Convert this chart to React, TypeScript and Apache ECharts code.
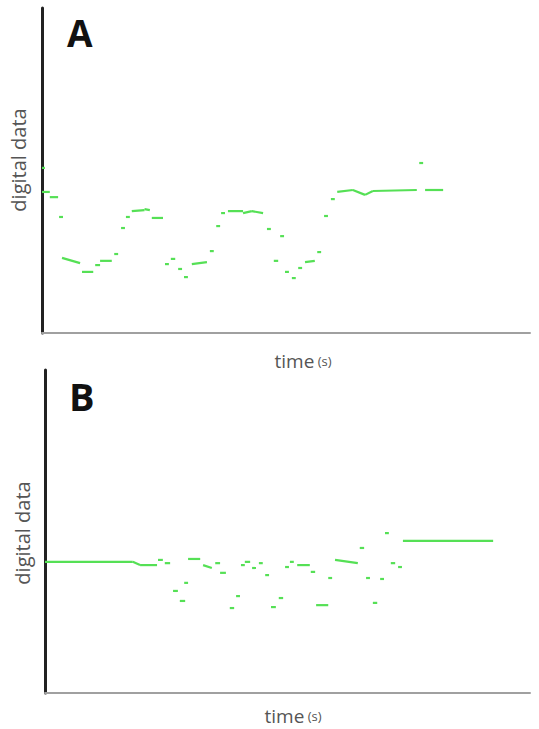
import React, { useEffect, useRef } from "react";
import * as echarts from "echarts";

// Each dash: [tStart, valueStart, tEnd, valueEnd] (time 0-100, digital data 0-100)
const dashesA: number[][] = [
  [0, 50.8, 0.6, 50.8],
  [0, 43.4, 1.6, 43.4],
  [1.6, 41.8, 3.3, 41.8],
  [3.5, 35.7, 4.3, 35.7],
  [4.1, 23.1, 7.8, 21.5],
  [8.2, 18.8, 10.5, 18.8],
  [10.9, 20.9, 11.9, 20.9],
  [11.9, 22.2, 14.3, 22.2],
  [14.8, 24.3, 15.6, 24.3],
  [16.2, 32.3, 17.0, 32.3],
  [17.2, 35.7, 18.0, 35.7],
  [18.4, 37.5, 21.0, 37.8],
  [21.0, 38.1, 22.1, 37.8],
  [22.5, 35.4, 24.8, 35.4],
  [25.2, 21.2, 26.0, 21.2],
  [26.4, 22.8, 27.3, 22.8],
  [27.9, 19.7, 28.7, 19.7],
  [29.1, 17.2, 29.9, 17.2],
  [30.7, 21.2, 33.8, 21.8],
  [34.4, 25.2, 35.2, 25.2],
  [35.7, 32.9, 36.5, 32.9],
  [36.7, 36.9, 37.5, 36.9],
  [38.1, 37.5, 41.2, 37.5],
  [41.2, 36.9, 43.0, 37.5],
  [43.0, 37.5, 45.3, 36.9],
  [46.1, 32.0, 46.9, 32.0],
  [47.5, 22.2, 48.4, 22.2],
  [48.8, 29.8, 49.6, 29.8],
  [49.8, 18.8, 50.6, 18.8],
  [51.2, 16.9, 52.0, 16.9],
  [52.5, 20.0, 53.3, 20.0],
  [53.9, 21.8, 55.9, 22.2],
  [56.4, 24.9, 57.2, 24.9],
  [57.8, 36.0, 58.6, 36.0],
  [59.2, 41.2, 60.0, 41.2],
  [60.5, 43.4, 63.7, 44.0],
  [63.7, 44.0, 66.2, 42.5],
  [66.2, 42.5, 67.8, 43.7],
  [67.8, 43.7, 76.8, 44.0],
  [77.3, 52.3, 78.1, 52.3],
  [78.5, 44.0, 82.2, 44.0],
];

const dashesB: number[][] = [
  [0, 40.6, 18.1, 40.6],
  [18.1, 40.6, 19.6, 39.6],
  [19.6, 39.6, 23.1, 39.6],
  [23.3, 41.2, 24.3, 41.2],
  [24.7, 40.2, 25.8, 40.2],
  [26.4, 31.6, 27.4, 31.6],
  [27.8, 28.5, 28.9, 28.5],
  [28.7, 34.1, 29.5, 34.1],
  [29.5, 41.5, 32.0, 41.5],
  [32.6, 39.6, 34.4, 38.7],
  [35.1, 40.2, 36.1, 40.2],
  [36.1, 37.2, 37.3, 37.2],
  [38.1, 26.3, 39.0, 26.3],
  [39.4, 30.0, 40.2, 30.0],
  [40.4, 39.6, 41.2, 39.6],
  [41.2, 40.6, 42.3, 40.6],
  [42.7, 38.7, 43.5, 38.7],
  [44.1, 40.2, 44.9, 40.2],
  [45.4, 36.5, 46.2, 36.5],
  [46.6, 26.6, 47.6, 26.6],
  [48.2, 29.4, 49.1, 29.4],
  [49.5, 39.0, 50.3, 39.0],
  [50.5, 40.6, 51.3, 40.6],
  [52.0, 39.6, 54.6, 39.6],
  [54.8, 37.5, 55.7, 37.5],
  [55.9, 27.2, 58.4, 27.2],
  [58.4, 35.6, 59.2, 35.6],
  [59.8, 41.2, 64.5, 40.2],
  [64.9, 44.9, 65.8, 44.9],
  [66.2, 35.6, 67.0, 35.6],
  [67.6, 27.9, 68.5, 27.9],
  [69.1, 35.3, 69.9, 35.3],
  [70.1, 49.5, 70.9, 49.5],
  [71.3, 40.2, 72.2, 40.2],
  [72.8, 39.0, 73.6, 39.0],
  [73.8, 47.1, 92.4, 47.1],
];

const panelLabels = ["A", "B"];
const yAxisTitle = "digital data";
const xAxisTitle = "time";
const xAxisUnit = "(s)";

const GREEN = "#55e055";
const GRAY_TEXT = "#555555";
const FONT = "'Open Sans', 'Noto Sans', sans-serif";

export default function App() {
  const ref = useRef<HTMLDivElement>(null);

  useEffect(() => {
    if (!ref.current) return;
    const chart = echarts.init(ref.current, undefined, { renderer: "svg" });

    const renderDash = (_params: any, api: any) => {
      const p0 = api.coord([api.value(0), api.value(1)]);
      const p1 = api.coord([api.value(2), api.value(3)]);
      return {
        type: "line",
        shape: { x1: p0[0], y1: p0[1], x2: p1[0], y2: p1[1] },
        style: { stroke: GREEN, lineWidth: 2.2, lineCap: "butt" },
      };
    };

    const xAxisBase = {
      type: "value",
      min: 0,
      max: 100,
      axisLine: { show: true, onZero: false, lineStyle: { color: "#a0a0a0", width: 2 } },
      axisTick: { show: false },
      axisLabel: { show: false },
      splitLine: { show: false },
    };
    const yAxisBase = {
      type: "value",
      min: 0,
      max: 100,
      axisLine: { show: true, onZero: false, lineStyle: { color: "#222222", width: 3 } },
      axisTick: { show: false },
      axisLabel: { show: false },
      splitLine: { show: false },
    };

    const timeText = (x: number, y: number) => ({
      type: "text",
      x,
      y,
      style: {
        text: `{a|${xAxisTitle}} {b|${xAxisUnit}}`,
        align: "center",
        verticalAlign: "middle",
        rich: {
          a: { fontSize: 19, fill: GRAY_TEXT, fontFamily: FONT },
          b: { fontSize: 13, fill: GRAY_TEXT, fontFamily: FONT },
        },
      },
    });

    const yTitle = (x: number, y: number) => ({
      type: "text",
      x,
      y,
      rotation: Math.PI / 2,
      style: {
        text: yAxisTitle,
        align: "center",
        verticalAlign: "middle",
        fontSize: 20,
        fill: GRAY_TEXT,
        fontFamily: FONT,
      },
    });

    chart.setOption({
      animation: false,
      backgroundColor: "#ffffff",
      grid: [
        { left: 42, top: 8, width: 488, height: 325 },
        { left: 45, top: 370, width: 485, height: 323 },
      ],
      xAxis: [
        { ...xAxisBase, gridIndex: 0 },
        { ...xAxisBase, gridIndex: 1 },
      ],
      yAxis: [
        { ...yAxisBase, gridIndex: 0 },
        { ...yAxisBase, gridIndex: 1 },
      ],
      series: [
        {
          type: "custom",
          xAxisIndex: 0,
          yAxisIndex: 0,
          renderItem: renderDash,
          encode: { x: [0, 2], y: [1, 3] },
          data: dashesA,
          clip: false,
        },
        {
          type: "custom",
          xAxisIndex: 1,
          yAxisIndex: 1,
          renderItem: renderDash,
          encode: { x: [0, 2], y: [1, 3] },
          data: dashesB,
          clip: false,
        },
      ],
      graphic: [
        {
          type: "text",
          x: 67,
          y: 32,
          style: {
            text: panelLabels[0],
            fontSize: 37,
            fontWeight: "bold",
            fill: "#111111",
            fontFamily: FONT,
            verticalAlign: "middle",
          },
        },
        {
          type: "text",
          x: 69,
          y: 396,
          style: {
            text: panelLabels[1],
            fontSize: 38,
            fontWeight: "bold",
            fill: "#111111",
            fontFamily: FONT,
            verticalAlign: "middle",
          },
        },
        yTitle(18, 160),
        yTitle(22, 533),
        timeText(303, 361),
        timeText(293, 716),
      ],
    });

    return () => chart.dispose();
  }, []);

  return (
    <div
      ref={ref}
      style={{ position: "fixed", left: 0, top: 0, width: 539, height: 729, background: "#fff" }}
    />
  );
}
